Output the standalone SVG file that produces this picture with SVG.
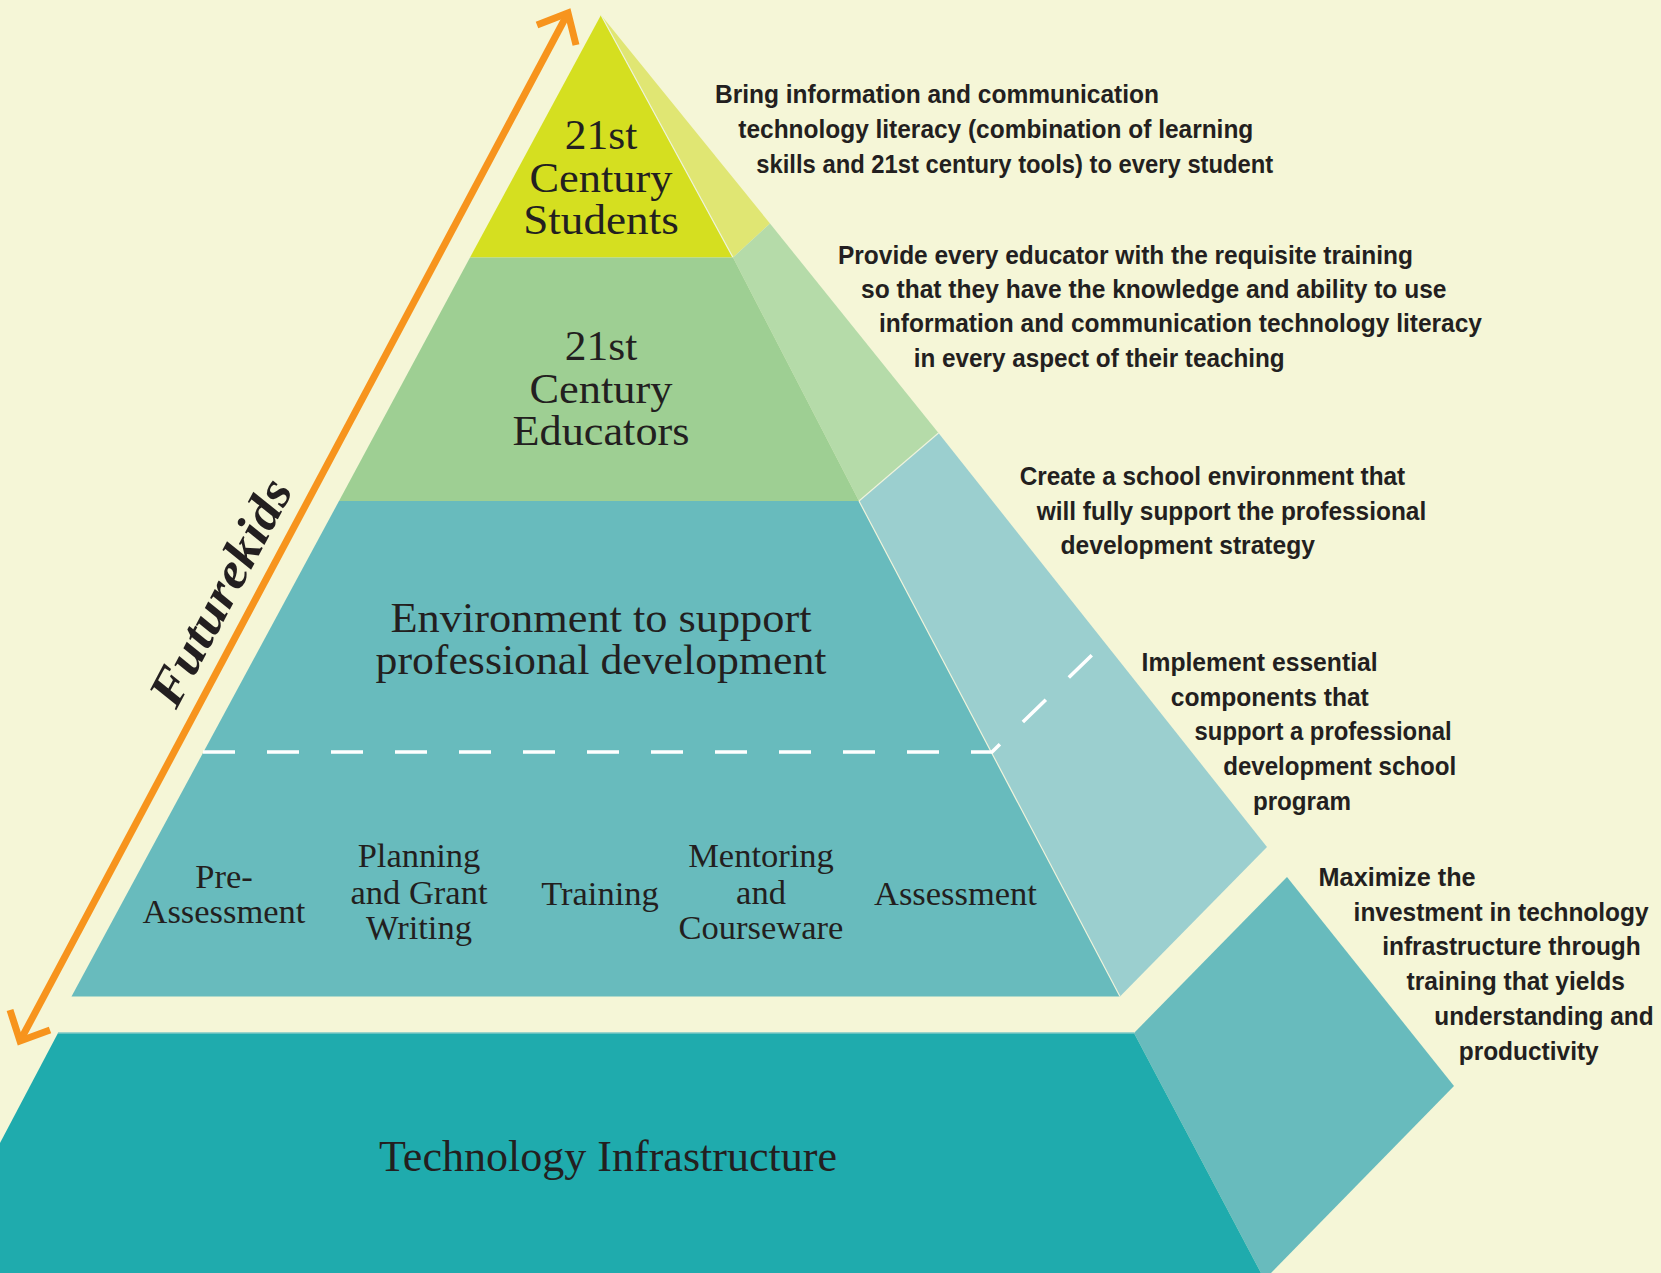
<svg xmlns="http://www.w3.org/2000/svg" width="1661" height="1273" viewBox="0 0 1661 1273">
<style>
.lbl{font-family:"Liberation Serif","DejaVu Serif",serif;fill:#231f20;text-anchor:middle}
.big{font-size:41.5px}
.sm{font-size:34.5px}
.desc{font-family:"Liberation Sans","Noto Sans",sans-serif;font-weight:bold;font-size:25px;fill:#231f20}
.edge{stroke:#eef3dc;stroke-width:1.2;fill:none}
.arrow{stroke:#f7941d;stroke-width:7;fill:none;stroke-linejoin:miter;stroke-linecap:butt}
</style>
<rect width="1661" height="1273" fill="#f5f6d7"/>

<g id="students">
<polygon points="601,15 770,223.5 733,257.5" fill="#e0e673"/>
<polygon points="601,15 733,257.5 470,257.5" fill="#d5df20"/>
<line class="edge" x1="601" y1="15" x2="733" y2="257.5"/>
<text class="lbl big" x="601" y="148.5" textLength="72.5" lengthAdjust="spacingAndGlyphs">21st</text>
<text class="lbl big" x="601" y="191.7" textLength="143" lengthAdjust="spacingAndGlyphs">Century</text>
<text class="lbl big" x="601" y="234.3" textLength="155.7" lengthAdjust="spacingAndGlyphs">Students</text>
</g>

<g id="educators">
<polygon points="733,257.5 770,223.5 938.5,433 859,501" fill="#b5dba9"/>
<polygon points="470,257.5 733,257.5 859,501 339,501" fill="#9ecf93"/>
<text class="lbl big" x="601" y="360" textLength="72.5" lengthAdjust="spacingAndGlyphs">21st</text>
<text class="lbl big" x="601" y="403" textLength="143" lengthAdjust="spacingAndGlyphs">Century</text>
<text class="lbl big" x="601" y="445" textLength="177" lengthAdjust="spacingAndGlyphs">Educators</text>
</g>

<g id="environment">
<polygon points="859,501 938.5,433 1267,847 1120,996.5" fill="#9bcfcf"/>
<polygon points="339,501 859,501 1120,996.5 71.5,996.5" fill="#68bbbd"/>
<line class="edge" x1="859" y1="501" x2="938.5" y2="433"/>
<line class="edge" x1="859" y1="501" x2="1120" y2="996.5"/>
<text class="lbl big" x="601" y="631.7" textLength="421" lengthAdjust="spacingAndGlyphs">Environment to support</text>
<text class="lbl big" x="601" y="674" textLength="451" lengthAdjust="spacingAndGlyphs">professional development</text>
</g>

<g id="components">
<text class="lbl sm" x="224" y="888">Pre-</text>
<text class="lbl sm" x="224" y="923">Assessment</text>
<text class="lbl sm" x="419" y="867.3">Planning</text>
<text class="lbl sm" x="419" y="904">and Grant</text>
<text class="lbl sm" x="419" y="939.3">Writing</text>
<text class="lbl sm" x="600" y="905">Training</text>
<text class="lbl sm" x="761" y="867.3">Mentoring</text>
<text class="lbl sm" x="761" y="904">and</text>
<text class="lbl sm" x="761" y="939.3">Courseware</text>
<text class="lbl sm" x="955.5" y="905">Assessment</text>
</g>

<g id="infrastructure">
<polygon points="1134,1033 1287,877 1454,1086 1271,1273 1261,1273" fill="#68bbbd"/>
<polygon points="58,1033 1134,1033 1261,1273 0,1273 0,1143" fill="#1fabad"/>
<line x1="58" y1="1033" x2="1134" y2="1033" stroke="#7cc9c6" stroke-width="1.5"/>
<text class="lbl" x="608" y="1170.7" font-size="44" textLength="458" lengthAdjust="spacingAndGlyphs">Technology Infrastructure</text>
</g>

<g id="connectors">
<path d="M203,752 H992 L1093,654" stroke="#ffffff" stroke-width="3.5" fill="none" stroke-dasharray="32 32"/>
<path class="arrow" d="M568,13 L20,1041"/>
<path class="arrow" d="M537,25 L568,13 L576,45"/>
<path class="arrow" d="M10,1010 L20,1041 L50,1030"/>
</g>

<g id="futurekids">
<text x="235" y="600" transform="rotate(-62 235 600)" font-family="Liberation Serif, DejaVu Serif, serif" font-style="italic" font-weight="bold" font-size="50" fill="#231f20" text-anchor="middle" textLength="250" lengthAdjust="spacingAndGlyphs">Futurekids</text>
</g>

<g id="desc-students">
<text class="desc" x="715" y="103.3" textLength="444" lengthAdjust="spacingAndGlyphs">Bring information and communication</text>
<text class="desc" x="738.3" y="138.3" textLength="515" lengthAdjust="spacingAndGlyphs">technology literacy (combination of learning</text>
<text class="desc" x="756.3" y="172.5" textLength="517" lengthAdjust="spacingAndGlyphs">skills and 21st century tools) to every student</text>
</g>

<g id="desc-educators">
<text class="desc" x="838" y="263.5" textLength="575" lengthAdjust="spacingAndGlyphs">Provide every educator with the requisite training</text>
<text class="desc" x="861" y="298.3" textLength="585.5" lengthAdjust="spacingAndGlyphs">so that they have the knowledge and ability to use</text>
<text class="desc" x="879" y="332" textLength="603" lengthAdjust="spacingAndGlyphs">information and communication technology literacy</text>
<text class="desc" x="913.7" y="366.7" textLength="371" lengthAdjust="spacingAndGlyphs">in every aspect of their teaching</text>
</g>

<g id="desc-environment">
<text class="desc" x="1019.7" y="485" textLength="385.5" lengthAdjust="spacingAndGlyphs">Create a school environment that</text>
<text class="desc" x="1036.7" y="519.5" textLength="389.5" lengthAdjust="spacingAndGlyphs">will fully support the professional</text>
<text class="desc" x="1060.5" y="553.5" textLength="254.5" lengthAdjust="spacingAndGlyphs">development strategy</text>
</g>

<g id="desc-components">
<text class="desc" x="1141.6" y="670.7" textLength="236" lengthAdjust="spacingAndGlyphs">Implement essential</text>
<text class="desc" x="1170.8" y="705.7" textLength="198" lengthAdjust="spacingAndGlyphs">components that</text>
<text class="desc" x="1194.6" y="740" textLength="257" lengthAdjust="spacingAndGlyphs">support a professional</text>
<text class="desc" x="1223.2" y="775" textLength="233" lengthAdjust="spacingAndGlyphs">development school</text>
<text class="desc" x="1252.9" y="810" textLength="98" lengthAdjust="spacingAndGlyphs">program</text>
</g>

<g id="desc-infrastructure">
<text class="desc" x="1318.6" y="886" textLength="157" lengthAdjust="spacingAndGlyphs">Maximize the</text>
<text class="desc" x="1353.6" y="920.7" textLength="295" lengthAdjust="spacingAndGlyphs">investment in technology</text>
<text class="desc" x="1382.2" y="955" textLength="258.6" lengthAdjust="spacingAndGlyphs">infrastructure through</text>
<text class="desc" x="1406.6" y="990" textLength="218.4" lengthAdjust="spacingAndGlyphs">training that yields</text>
<text class="desc" x="1434.3" y="1025" textLength="219.3" lengthAdjust="spacingAndGlyphs">understanding and</text>
<text class="desc" x="1458.7" y="1059.5" textLength="140" lengthAdjust="spacingAndGlyphs">productivity</text>
</g>
</svg>
